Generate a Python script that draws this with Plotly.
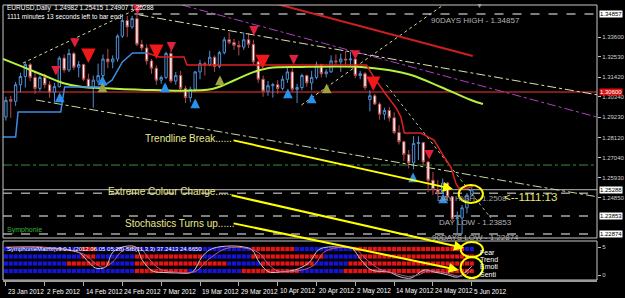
import plotly.graph_objects as go

# ---------------- data ----------------
bar_index = list(range(97))
opens = [1.2925,1.3020,1.3010,1.3100,1.3145,1.3210,1.3140,1.3080,1.3140,1.3100,
         1.3060,1.3090,1.3245,1.3180,1.3270,1.3195,1.3210,1.3130,1.3085,1.3120,
         1.3150,1.3240,1.3225,1.3240,1.3365,1.3450,1.3415,1.3460,1.3320,1.3300,
         1.3230,1.3190,1.3125,1.3140,1.3270,1.3120,1.3150,1.3080,1.3030,1.3075,
         1.3170,1.3215,1.3210,1.3250,1.3200,1.3275,1.3345,1.3330,1.3315,1.3305,
         1.3345,1.3320,1.3225,1.3130,1.3065,1.3095,1.3100,1.3080,1.3130,1.3170,
         1.3075,1.3085,1.3150,1.3110,1.3140,1.3210,1.3160,1.3170,1.3230,1.3225,
         1.3240,1.3235,1.3240,1.3150,1.3160,1.3020,1.3040,1.2995,1.2940,1.2960,
         1.2920,1.2840,1.2790,1.2720,1.2675,1.2780,1.2785,1.2680,1.2580,1.2530,
         1.2515,1.2565,1.2490,1.2370,1.2375,1.2430,1.24982]
highs = [1.3035,1.3040,1.3115,1.3165,1.3225,1.3220,1.3170,1.3150,1.3160,1.3120,
         1.3110,1.3255,1.3265,1.3295,1.3280,1.3230,1.3215,1.3160,1.3150,1.3215,
         1.3265,1.3295,1.3260,1.3375,1.3485,1.3475,1.3475,1.3486,1.3345,1.3320,
         1.3240,1.3205,1.3150,1.3280,1.3290,1.3170,1.3175,1.3095,1.3090,1.3175,
         1.3235,1.3225,1.3285,1.3260,1.3285,1.3360,1.3385,1.3350,1.3340,1.3385,
         1.3380,1.3345,1.3230,1.3150,1.3120,1.3110,1.3125,1.3150,1.3195,1.3195,
         1.3105,1.3160,1.3155,1.3175,1.3225,1.3215,1.3185,1.3260,1.3265,1.3270,
         1.3285,1.3280,1.3245,1.3175,1.3170,1.3070,1.3050,1.3005,1.2975,1.2980,
         1.2950,1.2880,1.2795,1.2745,1.2820,1.2820,1.2790,1.2685,1.2625,1.2580,
         1.2590,1.2570,1.2495,1.2410,1.2445,1.2510,1.25415]
lows = [1.2905,1.2920,1.2985,1.3060,1.3085,1.3120,1.3050,1.3065,1.3080,1.3030,
        1.3005,1.3085,1.3165,1.3170,1.3180,1.3140,1.3120,1.3080,1.2975,1.3105,
        1.3140,1.3190,1.3190,1.3225,1.3355,1.3360,1.3405,1.3310,1.3285,1.3210,
        1.3160,1.3100,1.3105,1.3130,1.3110,1.3100,1.3060,1.3000,1.3005,1.3065,
        1.3130,1.3150,1.3200,1.3170,1.3190,1.3265,1.3320,1.3290,1.3260,1.3290,
        1.3300,1.3210,1.3110,1.3035,1.3040,1.3030,1.3050,1.3070,1.3110,1.3060,
        1.3000,1.3070,1.3090,1.3070,1.3130,1.3140,1.3140,1.3165,1.3200,1.3170,
        1.3210,1.3200,1.3135,1.3130,1.3070,1.2955,1.2990,1.2910,1.2910,1.2900,
        1.2830,1.2775,1.2685,1.2645,1.2640,1.2690,1.2665,1.2515,1.2500,1.2495,
        1.2505,1.2470,1.2360,1.2290,1.2287,1.2400,1.24907]
closes = [1.3015,1.3010,1.3100,1.3145,1.3210,1.3140,1.3080,1.3140,1.3100,1.3060,
          1.3090,1.3245,1.3180,1.3270,1.3195,1.3210,1.3130,1.3085,1.3125,1.3150,
          1.3240,1.3225,1.3240,1.3365,1.3450,1.3415,1.3460,1.3320,1.3300,1.3230,
          1.3190,1.3125,1.3140,1.3270,1.3120,1.3150,1.3080,1.3030,1.3075,1.3170,
          1.3215,1.3210,1.3250,1.3200,1.3275,1.3345,1.3330,1.3315,1.3305,1.3345,
          1.3320,1.3225,1.3130,1.3065,1.3095,1.3100,1.3080,1.3130,1.3170,1.3075,
          1.3085,1.3150,1.3110,1.3140,1.3210,1.3160,1.3170,1.3230,1.3225,1.3240,
          1.3235,1.3240,1.3150,1.3160,1.3085,1.3040,1.2995,1.2940,1.2960,1.2920,
          1.2840,1.2790,1.2720,1.2675,1.2780,1.2785,1.2680,1.2580,1.2530,1.2515,
          1.2565,1.2490,1.2370,1.2375,1.2430,1.2500,1.25288]

date_ticks = [0, 8, 16, 24, 32, 40, 48, 56, 64, 72, 80, 88, 96]
date_labels = ["23 Jan 2012", "2 Feb 2012", "14 Feb 2012", "24 Feb 2012", "7 Mar 2012",
               "19 Mar 2012", "29 Mar 2012", "10 Apr 2012", "20 Apr 2012", "2 May 2012",
               "14 May 2012", "24 May 2012", "5 Jun 2012"]
price_ticks = [1.33600, 1.32530, 1.31420, 1.30340, 1.29230, 1.28120, 1.27040, 1.25930, 1.24850]

# moving average
ma_x = [-0.6, 3.5, 7.6, 11.7, 15.8, 19.9, 30.2, 42.5, 47.2, 51.0, 54.2, 60.9, 73.2, 78.8, 83.5, 89.6, 95.8, 98.3]
ma_y = [1.3240, 1.3197, 1.3153, 1.3110, 1.3088, 1.3082, 1.3071, 1.3077, 1.3126, 1.3169, 1.3191, 1.3197,
        1.3197, 1.3180, 1.3153, 1.3088, 1.3017, 1.2995]
# trailing stop line (blue = up, red = down)
stop_up_x = [-0.6, 2.0, 2.5, 11.3, 12.1, 19.9, 21.9, 24.0, 26.1, 29.1]
stop_up_y = [1.2816, 1.2816, 1.2952, 1.2952, 1.3088, 1.3088, 1.3126, 1.3224, 1.3273, 1.3273]
stop_dn_x = [29.1, 31.6, 36.7, 37.3, 74.3, 75.9, 78.4, 80.4, 81.4, 82.1, 85.5, 88.2, 90.3, 91.7, 92.7, 93.3, 95.2, 96.2]
stop_dn_y = [1.3273, 1.3251, 1.3251, 1.3208, 1.3208, 1.3137, 1.3044, 1.2974, 1.2924, 1.2837, 1.2837,
             1.2799, 1.2707, 1.2652, 1.2565, 1.2538, 1.2538, 1.2549]

# trendlines: (x0, y0, x1, y1)
tl_red = (55.8, 1.3540, 96.2, 1.3257)
tl_purple = (36.3, 1.3534, 121.8, 1.2924)
tl_up_left = (3.5, 1.3218, 28.7, 1.3534)
tl_chan_top = (27.5, 1.3480, 122.1, 1.3044)
tl_chan_bot = (6.2, 1.3017, 122.1, 1.2489)
tl_rise = (60.9, 1.2990, 90.7, 1.3545)
tl_steep = (78.4, 1.3099, 99.9, 1.2375)

# levels
high90 = 1.34857
pivot = 1.30600
week_lvl = 1.2663
bid = 1.25288
day_high = 1.25088
day_low = 1.23853
low90 = 1.22874

# signal arrows
sell_small_x = [10.3, 14.2, 27.1, 34.1, 51.1, 59.3, 72.0, 87.2]
sell_small_y = [1.3175, 1.3327, 1.3507, 1.3306, 1.3393, 1.3235, 1.3262, 1.2718]
sell_big_x = [17.0, 31.0, 52.9, 75.7]
sell_big_y = [1.3251, 1.3273, 1.3218, 1.3099]
buy_x = [11.1, 19.9, 32.8, 39.0, 58.1, 63.0, 83.9, 90.1]
buy_y = [1.3033, 1.3126, 1.3088, 1.3001, 1.3055, 1.3028, 1.2598, 1.2484]
buy2_x = [19.9, 44.1, 66.1]
buy2_y = [1.3088, 1.3126, 1.3082]

# Symphonie matrix rows (run lengths, B = blue, R = red)
row_names = ["Fear", "Trend", "Emoti", "Senti"]
row_levels = [4.64, 3.30, 2.05, 0.71]
row_runs = [
    [("B", 16), ("R", 3), ("B", 32), ("R", 9), ("B", 12), ("R", 23), ("B", 2)],
    [("B", 16), ("R", 3), ("B", 8), ("R", 14), ("B", 10), ("R", 15), ("B", 7), ("R", 24)],
    [("B", 13), ("R", 9), ("B", 5), ("R", 19), ("B", 7), ("R", 11), ("B", 7), ("R", 26)],
    [("B", 27), ("R", 11), ("B", 11), ("R", 12), ("B", 9), ("R", 27)],
]
stoch_k_x = [0, 6, 9.6, 13, 15.2, 17.2, 18.5, 20.5, 21.9, 23.4, 26.7, 28.1, 30.2, 33, 34.9, 38.4, 40.4, 42,
             43.9, 46.6, 49, 50.7, 52.3, 54.2, 57, 59.5, 62.4, 64.4, 66.5, 69, 71.2, 73.2, 75.3, 78.8, 81.4,
             83.5, 86.2, 88.2, 91, 93.1, 96]
stoch_k_y = [96, 97, 94, 88, 78, 47, 31, 34, 78, 94, 97, 56, 22, 17, 16, 19, 66, 88, 97, 100, 97, 88, 47,
             19, 20, 25, 47, 88, 97, 96, 94, 56, 25, 19, 3, 0, 25, 19, 10, 3, 37]
stoch_d_x = [0, 7, 11, 16, 18.5, 20, 22, 24, 27.5, 29.5, 31.5, 35, 39, 41.5, 45, 48, 52, 54, 56, 60, 63.5,
             65.5, 68, 72, 74.5, 77, 80, 83, 85, 87, 90, 94, 96]
stoch_d_y = [95, 96, 90, 75, 45, 33, 50, 85, 94, 60, 30, 18, 20, 55, 90, 96, 80, 45, 22, 22, 40, 80, 94,
             90, 55, 28, 15, 5, 10, 22, 18, 6, 25]

# ---------------- figure ----------------
W, H = 625, 298
def px(v): return v / W
def py(v): return 1 - v / H

FONT = "Liberation Sans"
XDOM = [px(3), px(597)]
XR = [-0.6, 121.8]

fig = go.Figure()

fig.add_trace(go.Candlestick(
    x=bar_index, open=opens, high=highs, low=lows, close=closes,
    increasing=dict(line=dict(color="#4F8FD6", width=1), fillcolor="#000000"),
    decreasing=dict(line=dict(color="#B84848", width=1), fillcolor="#FFFFFF"),
    whiskerwidth=0, hoverinfo="skip", xaxis="x", yaxis="y"))

def seg(t, color, dash="solid", width=1):
    fig.add_trace(go.Scatter(x=[t[0], t[2]], y=[t[1], t[3]], mode="lines",
                             line=dict(color=color, dash=dash, width=width),
                             hoverinfo="skip", xaxis="x", yaxis="y"))

seg(tl_up_left, "#D8D8A0", "dot")
seg(tl_chan_top, "#E0E0B0", "dashdot")
seg(tl_chan_bot, "#C8D8A0", "dashdot")
seg(tl_rise, "#D8D8A0", "dot")
seg(tl_steep, "#A8C890", "dot")
seg(tl_purple, "#B040C0", "dashdot")
seg(tl_red, "#CC1F1F", "solid", 2)

fig.add_trace(go.Scatter(x=ma_x, y=ma_y, mode="lines", line=dict(color="#B4F03C", width=2, shape="spline"),
                         hoverinfo="skip", xaxis="x", yaxis="y"))
fig.add_trace(go.Scatter(x=stop_up_x, y=stop_up_y, mode="lines", line=dict(color="#3C8CE6", width=1.5),
                         hoverinfo="skip", xaxis="x", yaxis="y"))
fig.add_trace(go.Scatter(x=stop_dn_x, y=stop_dn_y, mode="lines", line=dict(color="#E02020", width=1.5),
                         hoverinfo="skip", xaxis="x", yaxis="y"))

# matrix
for name, lvl, runs in zip(row_names, row_levels, row_runs):
    cols = []
    for c, n in runs:
        cols += [("#1414D2" if c == "B" else "#E61414")] * n
    fig.add_trace(go.Scatter(x=bar_index, y=[lvl] * len(bar_index), mode="markers",
                             marker=dict(symbol="square", size=4.2, color=cols, line=dict(width=0)),
                             hoverinfo="skip", xaxis="x2", yaxis="y2"))

fig.add_trace(go.Scatter(x=stoch_k_x, y=stoch_k_y, mode="lines", line=dict(color="#C8C8C8", width=1, shape="spline"),
                         hoverinfo="skip", xaxis="x2", yaxis="y3"))
fig.add_trace(go.Scatter(x=stoch_d_x, y=stoch_d_y, mode="lines", line=dict(color="#C05A8A", width=1, shape="spline"),
                         hoverinfo="skip", xaxis="x2", yaxis="y3"))

shapes = []
def hline(y, color, dash="solid", width=1, x0=None):
    if x0 is None:
        shapes.append(dict(type="line", xref="x domain", yref="y", x0=0, x1=1, y0=y, y1=y,
                           line=dict(color=color, dash=dash, width=width), layer="below"))
    else:
        shapes.append(dict(type="line", xref="x", yref="y", x0=x0, x1=XR[1], y0=y, y1=y,
                           line=dict(color=color, dash=dash, width=width), layer="below"))

hline(high90, "#A8A8A8", "dash", 1.5, x0=26.5)
hline(pivot, "#7A1C1C", "solid", 2)
hline(week_lvl, "#3C8C3C", "dashdot", 1)
hline(bid, "#B8B8B8", "solid", 1)
hline(day_high, "#9A9A9A", "dash", 1.5)
hline(day_low, "#A8A8A8", "dash", 1.5)
hline(low90, "#A8A8A8", "dash", 1.5)

# frames
shapes.append(dict(type="rect", xref="paper", yref="paper", x0=px(3), x1=px(597), y0=py(238), y1=py(5),
                   line=dict(color="#C8C8C8", width=1)))
shapes.append(dict(type="rect", xref="paper", yref="paper", x0=px(3), x1=px(597), y0=py(280), y1=py(241),
                   line=dict(color="#C8C8C8", width=1)))
shapes.append(dict(type="line", xref="paper", yref="paper", x0=px(3), x1=px(597), y0=py(281), y1=py(281),
                   line=dict(color="#9A9A9A", width=2)))

# yellow circles
shapes.append(dict(type="circle", xref="x", yref="y", x0=93.3, x1=98.3, y0=1.2456, y1=1.2554,
                   line=dict(color="#FFFF00", width=2)))
shapes.append(dict(type="circle", xref="x2", yref="y2", x0=93.7, x1=98.3, y0=3.21, y1=5.89,
                   line=dict(color="#FFFF00", width=2)))
shapes.append(dict(type="circle", xref="x2", yref="y2", x0=93.7, x1=98.3, y0=-0.54, y1=3.21,
                   line=dict(color="#FFFF00", width=2)))

ann = []
def txt(x, y, s, size=7, color="#FFFFFF", anchor="left", family=FONT, **kw):
    ann.append(dict(x=px(x), y=py(y), xref="paper", yref="paper", text=s, showarrow=False,
                    xanchor=anchor, yanchor="middle", font=dict(family=family, size=size, color=color), **kw))

# signal arrows drawn as short thick arrows
def sig_arrows(xs, ys, color, up, width, size, length):
    for x, y in zip(xs, ys):
        ann.append(dict(x=x, y=y, xref="x", yref="y", text="", showarrow=True, arrowhead=2,
                        arrowwidth=width, arrowsize=size, arrowcolor=color, standoff=0,
                        ax=0, ay=(length if up else -length), yshift=(length / 2 if up else -length / 2)))

sig_arrows(sell_small_x, sell_small_y, "#E0203C", False, 2.5, 0.75, 9)
sig_arrows(sell_big_x, sell_big_y, "#F01818", False, 3.6, 0.8, 12)
sig_arrows(buy_x, buy_y, "#2A90F0", True, 2.6, 0.75, 9)
sig_arrows(buy2_x, buy2_y, "#A0A040", True, 2.6, 0.75, 9)

txt(5, 8, "EURUSD,Daily  1.24982 1.25415 1.24907 1.25288", 6.5)
txt(5, 16, "1111 minutes 13 seconds left to bar end", 6.5)
txt(429, 20, "90DAYS HIGH - 1.34857", 8, "#B4B4B4")
txt(435, 198, "DAY HIGH - 1.2508", 8, "#A0A0A0")
txt(437, 222, "DAY LOW - 1.23853", 8, "#B4B4B4")
txt(430, 237, "90DAYS LOW - 1.22874", 8, "#B4B4B4")
txt(502, 197, "<--1111:13", 11.5, "#E6E66E")
txt(143, 139, "Trendline Break......", 10, "#E8E890")
txt(106, 191, "Extreme Colour Change......", 10, "#E8E890")
txt(123, 223, "Stochastics Turns up......", 10, "#E8E890")
txt(5, 230, "Symphonie", 7, "#3CB43C")
txt(5, 249, "SymphonieMatrix(v3.0.1 (2012.06.05 05:28) Stb(11,3,3) 37.2413 24.6650", 6, "#FFFFFF")
txt(479, 5, "\u25BC", 7, "#A0A0A0", anchor="center")

for name, lvl in zip(row_names, row_levels):
    ann.append(dict(x=97.3, y=lvl, xref="x2", yref="y2", text=name, showarrow=False, xanchor="left",
                    yanchor="middle", yshift=-3, font=dict(family=FONT, size=7, color="#FFFFFF")))

# axis value boxes
for val, bg, fg in [(high90, "#FFFFFF", "#000000"), (pivot, "#E01010", "#FFFFFF"),
                    (bid, "#FFFFFF", "#000000"), (day_low, "#FFFFFF", "#000000"),
                    (low90, "#FFFFFF", "#000000")]:
    ann.append(dict(x=px(599), y=val, xref="paper", yref="y", text=f"{val:.5f}", showarrow=False,
                    xanchor="left", yanchor="middle", bgcolor=bg, borderpad=0,
                    font=dict(family=FONT, size=6, color=fg)))

for t, lab in zip(date_ticks, date_labels):
    ann.append(dict(x=t, y=py(291), xref="x2", yref="paper", text=lab, showarrow=False, xanchor="left",
                    yanchor="middle", xshift=0, font=dict(family=FONT, size=6.5, color="#FFFFFF")))

# yellow pointer arrows (tail -> head)
for tail, head in [((46.6, 1.2799), (92.1, 1.2533)),
                   ((46.2, 1.2500), (94.4, 1.2211)),
                   ((46.6, 1.2347), (93.3, 1.2092))]:
    ann.append(dict(x=head[0], y=head[1], xref="x", yref="y", ax=tail[0], ay=tail[1], axref="x", ayref="y",
                    text="", showarrow=True, arrowhead=2, arrowsize=1, arrowwidth=2, arrowcolor="#FFFF00",
                    standoff=0))

fig.update_layout(
    width=W, height=H, margin=dict(l=0, r=0, t=0, b=0),
    paper_bgcolor="#000000", plot_bgcolor="#000000", showlegend=False,
    shapes=shapes, annotations=ann,
    xaxis=dict(domain=XDOM, range=XR, anchor="y", showgrid=False, zeroline=False, showticklabels=False,
               rangeslider=dict(visible=False), ticks=""),
    yaxis=dict(domain=[py(238), py(5)], range=[1.22658, 1.35342], side="right", anchor="x",
               tickvals=price_ticks, ticktext=[f"{v:.5f}" for v in price_ticks],
               tickfont=dict(family=FONT, size=6, color="#D0D0D0"), ticks="outside", ticklen=3,
               tickcolor="#C0C0C0", showgrid=False, zeroline=False),
    xaxis2=dict(domain=XDOM, range=XR, anchor="y2", showgrid=False, zeroline=False, showticklabels=False,
                tickvals=date_ticks, ticks="outside", ticklen=5, tickcolor="#B0B0B0"),
    yaxis2=dict(domain=[py(280), py(241)], range=[-0.89, 6.07], side="right", anchor="x2",
                tickvals=[0, 5], ticktext=["0", "5"], tickfont=dict(family=FONT, size=6, color="#D0D0D0"),
                ticks="outside", ticklen=3, tickcolor="#C0C0C0", showgrid=False, zeroline=False),
    yaxis3=dict(overlaying="y2", range=[-6.25, 115.6], visible=False, anchor="x2"),
)

fig.write_html("out.html")
